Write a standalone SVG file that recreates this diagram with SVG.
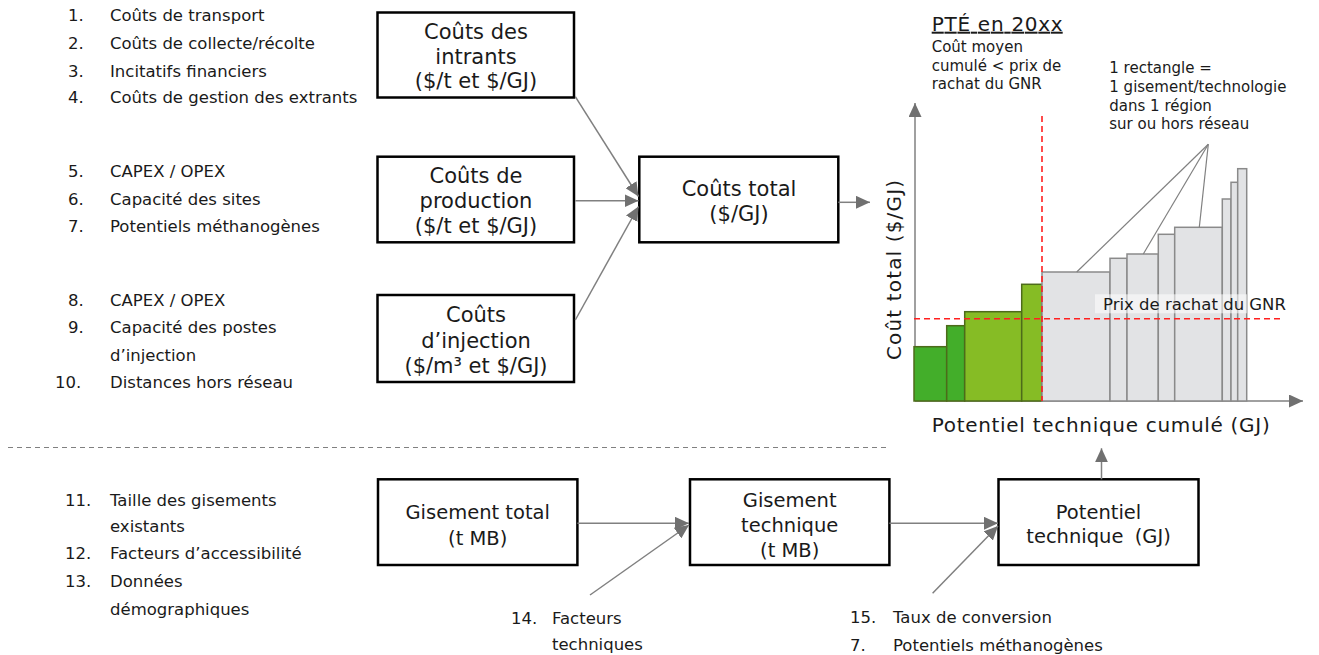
<svg xmlns="http://www.w3.org/2000/svg" width="1319" height="655" viewBox="0 0 1319 655">
<defs>
<style>
text{font-family:"DejaVu Sans",Verdana,sans-serif;fill:#1a1a1a}
.lst{font-size:16.5px}
.lsb{font-size:16.5px}
.bx{fill:#fff;stroke:#000;stroke-width:2.5}
.bt{font-size:21px;text-anchor:middle}
.bb{font-size:19.5px;text-anchor:middle}
.cn{stroke:#808080;stroke-width:1.5;fill:none}
.gb{fill:#e2e3e5;stroke:#8a8a8a;stroke-width:1.5}
.grn1{fill:#43ae2a;stroke:#4d6b1a;stroke-width:1.5}
.grn2{fill:#86bc25;stroke:#4d6b1a;stroke-width:1.5}
.red{stroke:#ff2020;stroke-width:1.6;stroke-dasharray:6 4;fill:none}
.co{stroke:#808080;stroke-width:1.2;fill:none}
.ch{font-size:15px}
</style>
<marker id="ah" markerUnits="userSpaceOnUse" markerWidth="15" markerHeight="13" refX="14" refY="6.5" orient="auto">
<path d="M0,0 L14,6.5 L0,13 z" fill="#707070"/>
</marker>
</defs>

<!-- Left lists -->
<g id="list-intrants" class="lst">
<text x="68" y="21">1.</text><text x="110" y="21">Coûts de transport</text>
<text x="68" y="49">2.</text><text x="110" y="49">Coûts de collecte/récolte</text>
<text x="68" y="76.5">3.</text><text x="110" y="76.5">Incitatifs financiers</text>
<text x="68" y="103">4.</text><text x="110" y="103">Coûts de gestion des extrants</text>
</g>
<g id="list-production" class="lst">
<text x="68" y="177">5.</text><text x="110" y="177">CAPEX / OPEX</text>
<text x="68" y="204.5">6.</text><text x="110" y="204.5">Capacité des sites</text>
<text x="68" y="232">7.</text><text x="110" y="232">Potentiels méthanogènes</text>
</g>
<g id="list-injection" class="lst">
<text x="68" y="305.7">8.</text><text x="110" y="305.7">CAPEX / OPEX</text>
<text x="68" y="333.3">9.</text><text x="110" y="333.3">Capacité des postes</text>
<text x="110" y="361">d’injection</text>
<text x="55" y="387.7">10.</text><text x="110" y="387.7">Distances hors réseau</text>
</g>

<!-- Top boxes -->
<g id="node-intrants">
<rect class="bx" x="377.5" y="12.5" width="196.5" height="85"/>
<text class="bt" x="476" y="39">Coûts des</text>
<text class="bt" x="476" y="63.5">intrants</text>
<text class="bt" x="476" y="88">($/t et $/GJ)</text>
</g>
<g id="node-production">
<rect class="bx" x="377.5" y="156.7" width="196.5" height="85.6"/>
<text class="bt" x="476" y="182.7">Coûts de</text>
<text class="bt" x="476" y="208.3">production</text>
<text class="bt" x="476" y="233.3">($/t et $/GJ)</text>
</g>
<g id="node-injection">
<rect class="bx" x="377.5" y="295" width="196.5" height="87"/>
<text class="bt" x="476" y="322.3">Coûts</text>
<text class="bt" x="476" y="347.7">d’injection</text>
<text class="bt" x="476" y="372.7">($/m³ et $/GJ)</text>
</g>
<g id="node-total">
<rect class="bx" x="639.3" y="156.7" width="199" height="85.6"/>
<text class="bt" x="739" y="196">Coûts total</text>
<text class="bt" x="739" y="221">($/GJ)</text>
</g>

<!-- Bottom section -->
<line x1="8" y1="447.5" x2="888" y2="447.5" stroke="#808080" stroke-width="1" stroke-dasharray="5 4"/>

<g id="list-gisement" class="lsb">
<text x="65" y="506">11.</text><text x="110" y="506">Taille des gisements</text>
<text x="110" y="531.7">existants</text>
<text x="65" y="559.3">12.</text><text x="110" y="559.3">Facteurs d’accessibilité</text>
<text x="65" y="586.7">13.</text><text x="110" y="586.7">Données</text>
<text x="110" y="615">démographiques</text>
</g>
<g id="list-technique" class="lsb">
<text x="511" y="624">14.</text><text x="552" y="624">Facteurs</text>
<text x="552" y="650">techniques</text>
</g>
<g id="list-conversion" class="lsb">
<text x="850" y="623">15.</text><text x="893" y="623">Taux de conversion</text>
<text x="850" y="651">7.</text><text x="893" y="651">Potentiels méthanogènes</text>
</g>

<g id="node-gisement-total">
<rect class="bx" x="378" y="479.3" width="199.4" height="85.7"/>
<text class="bb" x="477.7" y="519.3">Gisement total</text>
<text class="bb" x="477.7" y="545">(t MB)</text>
</g>
<g id="node-gisement-technique">
<rect class="bx" x="690" y="479.3" width="199.4" height="85.7"/>
<text class="bb" x="789.7" y="506.7">Gisement</text>
<text class="bb" x="789.7" y="531.7">technique</text>
<text class="bb" x="789.7" y="556.7">(t MB)</text>
</g>
<g id="node-potentiel">
<rect class="bx" x="998.5" y="479.3" width="200" height="85.7"/>
<text class="bb" x="1098.5" y="519.3">Potentiel</text>
<text class="bb" x="1098.5" y="543.3" word-spacing="5">technique (GJ)</text>
</g>

<!-- Chart -->
<g id="chart">
<text x="931.7" y="30.7" font-size="20" text-decoration="underline" textLength="131" lengthAdjust="spacing">PTÉ en 20xx</text>
<text class="ch" x="931.7" y="51.7">Coût moyen</text>
<text class="ch" x="931.7" y="71">cumulé &lt; prix de</text>
<text class="ch" x="931.7" y="89.3">rachat du GNR</text>
<text class="ch" x="1109.3" y="72.7">1 rectangle =</text>
<text class="ch" x="1109.3" y="91.7">1 gisement/technologie</text>
<text class="ch" x="1109.3" y="111">dans 1 région</text>
<text class="ch" x="1109.3" y="129.3">sur ou hors réseau</text>

<line class="cn" x1="915" y1="401" x2="915" y2="103" marker-end="url(#ah)"/>
<line class="cn" x1="915" y1="401" x2="1303" y2="401" marker-end="url(#ah)"/>

<rect class="grn1" x="914" y="346.7" width="32.7" height="54.3"/>
<rect class="grn1" x="946.7" y="325.7" width="18" height="75.3"/>
<rect class="grn2" x="964.7" y="311.7" width="57" height="89.3"/>
<rect class="grn2" x="1021.7" y="284.3" width="20.3" height="116.7"/>

<rect class="gb" x="1042" y="272" width="68" height="129"/>
<rect class="gb" x="1110" y="258.3" width="17" height="142.7"/>
<rect class="gb" x="1127" y="254" width="31.3" height="147"/>
<rect class="gb" x="1158.3" y="234.3" width="16.4" height="166.7"/>
<rect class="gb" x="1174.7" y="227.3" width="47.6" height="173.7"/>
<rect class="gb" x="1222.3" y="199" width="8.7" height="202"/>
<rect class="gb" x="1231" y="182.3" width="6.7" height="218.7"/>
<rect class="gb" x="1237.7" y="168.7" width="9" height="232.3"/>

<line class="co" x1="1208.3" y1="144.3" x2="1076.7" y2="272"/>
<line class="co" x1="1208.3" y1="144.3" x2="1143.3" y2="254"/>
<line class="co" x1="1208.3" y1="144.3" x2="1199.3" y2="227.3"/>

<rect x="1095" y="294.3" width="152" height="19" fill="#fff" fill-opacity="0.55"/>
<text x="1103" y="310" font-size="16.5">Prix de rachat du GNR</text>

<line class="red" x1="914" y1="318.7" x2="1284" y2="318.7"/>
<line class="red" x1="1042" y1="116" x2="1042" y2="401"/>

<text font-size="20" transform="translate(901,270) rotate(-90)" text-anchor="middle" textLength="180" lengthAdjust="spacing">Coût total ($/GJ)</text>
<text x="931.7" y="431.7" font-size="20" textLength="338" lengthAdjust="spacing">Potentiel technique cumulé (GJ)</text>
</g>

<!-- Connectors -->
<g id="connectors">
<line class="cn" x1="575.3" y1="96.7" x2="638.5" y2="196.5" marker-end="url(#ah)"/>
<line class="cn" x1="575.3" y1="200.7" x2="638.5" y2="200.7" marker-end="url(#ah)"/>
<line class="cn" x1="575.3" y1="320" x2="638.5" y2="206.5" marker-end="url(#ah)"/>
<line class="cn" x1="838.3" y1="202.3" x2="870" y2="202.3" marker-end="url(#ah)"/>
<line class="cn" x1="577.4" y1="523.3" x2="689" y2="523.3" marker-end="url(#ah)"/>
<line class="cn" x1="590" y1="595" x2="689" y2="525" marker-end="url(#ah)"/>
<line class="cn" x1="889.4" y1="523.3" x2="998" y2="523.3" marker-end="url(#ah)"/>
<line class="cn" x1="932.6" y1="593.3" x2="998" y2="526" marker-end="url(#ah)"/>
<line class="cn" x1="1101.5" y1="479.3" x2="1101.5" y2="448.3" marker-end="url(#ah)"/>
</g>
</svg>
